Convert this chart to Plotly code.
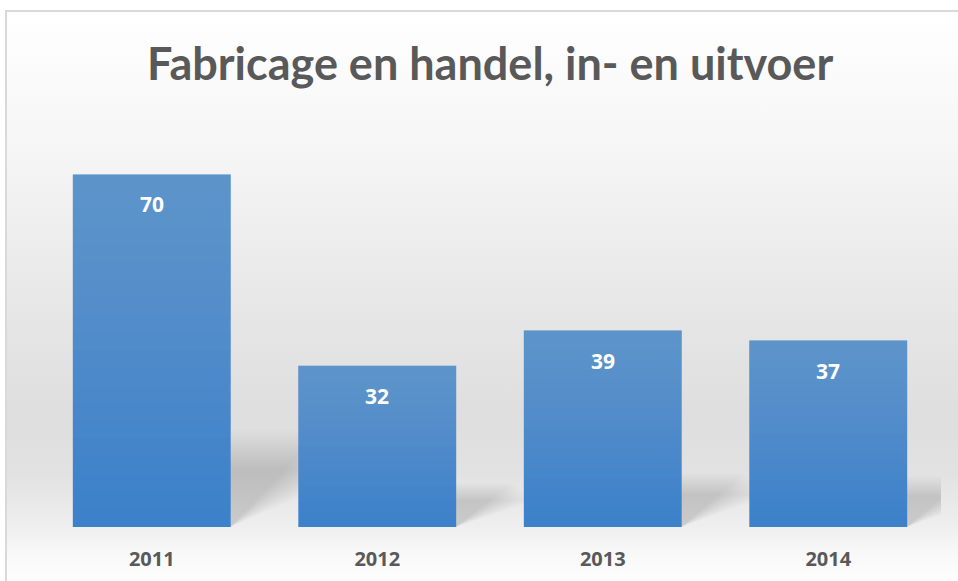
import base64
import plotly.graph_objects as go

# ---- data -------------------------------------------------------------
years = ["2011", "2012", "2013", "2014"]
values = [70, 32, 39, 37]

TITLE = "Fabricage en handel, in- en uitvoer"

# ---- styling ----------------------------------------------------------
W, H = 958, 581
PL, PR, PT, PB = 39, 941, 124, 527          # plot area in pixels
Y_MAX = 80
BAR_W = 0.70
BAR_BASE = "#3a80ca"
TEXT_COLOR = "#595959"
TITLE_FONT = "Lato, 'Open Sans', sans-serif"
LABEL_FONT = "'Open Sans', sans-serif"


def xp(px):
    return (px - PL) / (PR - PL)


def yp(py):
    return (PB - py) / (PB - PT)


px_per_cat = (PR - PL) / len(years)
px_per_unit = (PB - PT) / Y_MAX

x_idx = list(range(len(years)))

fig = go.Figure()
fig.add_trace(go.Bar(
    x=x_idx, y=values, width=BAR_W,
    marker=dict(color=BAR_BASE, line=dict(width=0)),
    hoverinfo="skip", showlegend=False,
))

shapes = []

# soft cast shadows behind each bar (below the bars): many faint layers
# fanned out so both the top edge and the diagonal edge blur
n_shadow = 18
shadow_layers = [(1.22 - 0.40 * k / (n_shadow - 1), 0.74 + 0.46 * k / (n_shadow - 1))
                 for k in range(n_shadow)]
for i, v in enumerate(values):
    xl, xr = i - BAR_W / 2, i + BAR_W / 2
    dx = (30 + 1.2 * v) / px_per_cat
    dy = 1.15 * v / px_per_unit
    for sx, sy in shadow_layers:
        ddx, ddy = dx * sx, dy * sy
        path = (f"M{xl},0 L{xr},0 L{xr + ddx},{ddy} "
                f"L{xl + ddx},{ddy} Z")
        shapes.append(dict(type="path", path=path, xref="x", yref="y",
                           fillcolor="rgba(0,0,0,0.0085)", line=dict(width=0),
                           layer="below"))

# light sheen on the upper part of each bar
n_sheen = 20
for i, v in enumerate(values):
    for k in range(n_sheen):
        shapes.append(dict(type="rect", xref="x", yref="y",
                           x0=i - BAR_W / 2, x1=i + BAR_W / 2,
                           y0=v * k / n_sheen, y1=v,
                           fillcolor="rgba(255,255,255,0.0105)",
                           line=dict(width=0), layer="above"))

# chart border
shapes.append(dict(type="rect", xref="paper", yref="paper",
                   x0=xp(6), x1=xp(964), y0=yp(590), y1=yp(11),
                   line=dict(color="#d9d9d9", width=2), layer="above"))

# value labels
annotations = []
for i, v in enumerate(values):
    annotations.append(dict(x=i, y=v, xref="x", yref="y", text=f"<b>{v}</b>",
                            showarrow=False, yshift=-30,
                            font=dict(family=LABEL_FONT, size=21, color="white")))

annotations.append(dict(x=0.5, y=yp(63), xref="paper", yref="paper",
                        text=TITLE, showarrow=False, yanchor="middle",
                        font=dict(family=TITLE_FONT, size=45, color=TEXT_COLOR,
                                  weight="bold")))

# background gradient
stops = [(0.00, "#ffffff"), (0.25, "#f5f5f5"), (0.55, "#e5e5e5"),
         (0.70, "#dedede"), (0.80, "#e2e2e2"), (0.90, "#f0f0f0"),
         (0.94, "#f9f9f9"), (1.00, "#ffffff")]
stop_xml = "".join(f"<stop offset='{o}' stop-color='{c}'/>" for o, c in stops)
svg = ("<svg xmlns='http://www.w3.org/2000/svg' width='100' height='100' "
       "viewBox='0 0 100 100' preserveAspectRatio='none'><defs>"
       "<linearGradient id='g' x1='0' y1='0' x2='0' y2='1'>" + stop_xml +
       "</linearGradient></defs><rect width='100' height='100' fill='url(#g)'/></svg>")
bg_src = "data:image/svg+xml;base64," + base64.b64encode(svg.encode()).decode()

fig.update_layout(
    width=W, height=H,
    margin=dict(l=PL, r=W - PR, t=PT, b=H - PB, pad=0),
    paper_bgcolor="white",
    plot_bgcolor="rgba(0,0,0,0)",
    showlegend=False,
    shapes=shapes,
    annotations=annotations,
    images=[dict(source=bg_src, xref="paper", yref="paper",
                 x=xp(6), y=yp(11), sizex=xp(964) - xp(6), sizey=yp(11) - yp(590),
                 sizing="stretch", xanchor="left", yanchor="top", layer="below")],
    xaxis=dict(range=[-0.5, len(years) - 0.5], tickvals=x_idx, ticktext=years,
               showgrid=False, zeroline=False, showline=False, ticks="",
               automargin=False, ticklabelstandoff=18,
               tickfont=dict(family=LABEL_FONT, size=20, color=TEXT_COLOR,
                             weight="bold")),
    yaxis=dict(range=[0, Y_MAX], visible=False, automargin=False),
)

fig.write_html("out.html")
